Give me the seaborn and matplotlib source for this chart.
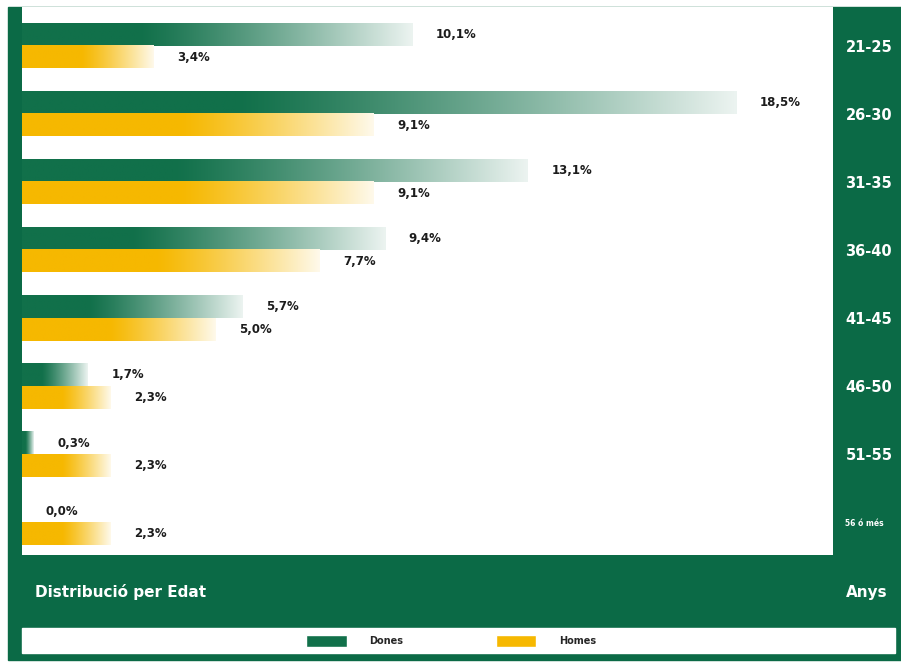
import numpy as np
import pandas as pd
import matplotlib
matplotlib.use("Agg")
import matplotlib.pyplot as plt
import seaborn as sns
from matplotlib.patches import Rectangle, Patch
from matplotlib.colors import to_rgb

ages = ["21-25", "26-30", "31-35", "36-40", "41-45", "46-50", "51-55", "56 ó més"]
dones = [10.1, 18.5, 13.1, 9.4, 5.7, 1.7, 0.3, 0.0]
homes = [3.4, 9.1, 9.1, 7.7, 5.0, 2.3, 2.3, 2.3]
series = ["Dones", "Homes"]

FRAME = "#0b6a46"
GREEN = "#11704a"
YELLOW = "#f6b800"


def gradient_bar(ax, patch, color, start):
    # replace a flat bar by a colour -> white fade towards its end
    x, y = patch.get_x(), patch.get_y()
    w, h = patch.get_width(), patch.get_height()
    patch.set_visible(False)
    if w <= 0:
        return
    u = np.linspace(0, 1, 256)
    t = np.clip((u - start) / (1 - start), 0, 1) ** 1.2 * 0.92
    c = np.array(to_rgb(color))
    row = c[None, :] * (1 - t[:, None]) + t[:, None]
    img = np.repeat(row[None, :, :], 2, axis=0)
    ax.imshow(img, extent=(x, x + w, y + h, y), aspect="auto",
              interpolation="bilinear", zorder=2)


def main():
    df = pd.DataFrame({
        "edat": ages * 2,
        "pct": dones + homes,
        "sexe": [series[0]] * len(ages) + [series[1]] * len(ages),
    })

    sns.set_style("white")
    plt.rcParams["font.family"] = ["DejaVu Sans"]

    fig = plt.figure(figsize=(9.01, 6.63), dpi=100)
    W, H = 901, 663
    # green frame, behind the axes
    fig.patches.append(Rectangle((8 / W, 3 / H), (W - 8) / W, (660 - 7) / H,
                                 transform=fig.transFigure, color=FRAME, zorder=-5))
    # legend strip
    fig.patches.append(Rectangle((22 / W, (H - 653) / H), (895 - 22) / W, 25 / H,
                                 transform=fig.transFigure, color="white", zorder=-4))

    ax = fig.add_axes([22 / W, (H - 555) / H, 811 / W, 548 / H])
    sns.barplot(data=df, y="edat", x="pct", hue="sexe", orient="h", width=0.66,
                palette=[GREEN, YELLOW], ax=ax, legend=False)

    for cont, col, st, vals in zip(ax.containers, [GREEN, YELLOW], [0.3, 0.45],
                                   [dones, homes]):
        for p in cont.patches:
            gradient_bar(ax, p, col, st)
        ax.bar_label(cont, labels=[f"{v:.1f}%".replace(".", ",") for v in vals],
                     padding=17, fontsize=8.5, fontweight="heavy", color="#1c1c1c")

    ax.set_xlim(0, 21)
    ax.set_ylim(7.48, -0.57)
    ax.set_facecolor("white")
    for s in ax.spines.values():
        s.set_visible(False)
    ax.set_xticks([])
    ax.set_xlabel("")
    ax.set_ylabel("")
    ax.yaxis.tick_right()
    ax.tick_params(axis="y", length=0, pad=9, labelcolor="white", labelsize=10.5)
    for lab in ax.get_yticklabels():
        lab.set_fontweight("bold")
        if lab.get_text() == ages[-1]:
            lab.set_fontsize(5.5)

    fig.text(35 / W, 1 - 592 / H, "Distribució per Edat", color="white",
             fontsize=11, fontweight="bold", va="center", ha="left")
    fig.text(846 / W, 1 - 592 / H, "Anys", color="white",
             fontsize=11, fontweight="bold", va="center", ha="left")

    handles = [Patch(facecolor=GREEN), Patch(facecolor=YELLOW)]
    fig.legend(handles, series, loc="center", bbox_to_anchor=(451 / W, 1 - 641 / H),
               ncol=2, frameon=False, handlelength=4.2, handleheight=1.4,
               handletextpad=2.3, columnspacing=9.5,
               prop={"weight": "bold", "size": 7})

    fig.savefig("out.png", dpi=100, facecolor="white")


if __name__ == "__main__":
    main()
